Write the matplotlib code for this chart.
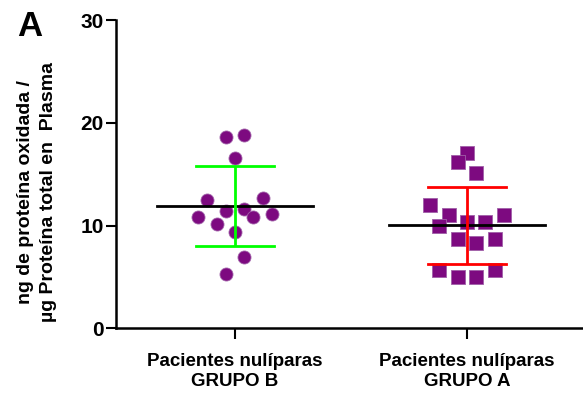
import numpy as np
import matplotlib.pyplot as plt

# values (ng oxidised protein / ug total protein)
grupo_b = [18.64, 18.80, 16.54, 12.48, 12.65, 11.41, 11.63, 10.86, 10.86,
           11.09, 10.12, 9.40, 6.96, 5.25]
grupo_a = [17.08, 16.21, 15.14, 11.99, 11.02, 11.02, 9.95, 10.37, 10.37,
           8.69, 8.27, 8.69, 5.67, 5.02, 5.02, 5.67]
# horizontal slot of each point in the dot plot (half-marker steps)
slots_b = [-1, 1, 0, -3, 3, -1, 1, -4, 2, 4, -2, 0, 1, -1]
slots_a = [0, -1, 1, -4, -2, 4, -3, 0, 2, -1, 1, 3, -3, -1, 1, 3]
labels = ["Pacientes nulíparas\nGRUPO B", "Pacientes nulíparas\nGRUPO A"]
yticks = [0, 10, 20, 30]

plt.rcParams["font.family"] = ["Liberation Sans", "DejaVu Sans"]
plt.rcParams["font.weight"] = "bold"

purple = "#7d0a80"
step = 0.0397

fig = plt.figure(figsize=(5.83, 3.96), dpi=100)
ax = fig.add_axes([116 / 583, 67.7 / 396, 1 - 116 / 583, 308.3 / 396])

groups = [(grupo_b, slots_b, "o", 88, "#00ff00"),
          (grupo_a, slots_a, "s", 100, "#ff0000")]
for i, (vals, slots, mk, sz, ecol) in enumerate(groups):
    vals = np.array(vals)
    xs = i + np.array(slots) * step
    ax.scatter(xs, vals, marker=mk, s=sz, color=purple, edgecolors="#a060a8",
               linewidths=0.6, zorder=3)
    m = vals.mean()
    sd = vals.std(ddof=1)
    ax.plot([i - 0.336, i + 0.336], [m, m], color="black", lw=2, zorder=4)
    ax.errorbar(i, m, yerr=sd, color=ecol, lw=2, capsize=0, zorder=5)
    for y in (m - sd, m + sd):
        ax.plot([i - 0.167, i + 0.167], [y, y], color=ecol, lw=2, zorder=5)

ax.set_xlim(-0.513, 1.5)
ax.set_ylim(0, 30)
ax.set_yticks(yticks)
ax.set_xticks([0, 1])
ax.set_xticklabels(labels, fontsize=13.5, fontweight="bold", linespacing=1.2)
ax.tick_params(axis="y", labelsize=15, width=1.5, length=7, pad=2)
ax.tick_params(axis="x", width=1.5, length=8, pad=10)
for lab in ax.get_yticklabels():
    lab.set_fontweight("bold")
ax.spines["top"].set_visible(False)
ax.spines["right"].set_visible(False)
ax.spines["left"].set_linewidth(1.8)
ax.spines["bottom"].set_linewidth(1.8)

fig.text(37 / 583, 1 - 192 / 396, "ng de proteína oxidada /\nµg Proteína total en  Plasma",
         rotation=90, ha="center", va="center", fontsize=14, fontweight="bold",
         linespacing=1.5)
fig.text(17 / 583, 1 - 27 / 396, "A", fontsize=25, fontweight="bold", va="center")

fig.savefig("out.png", dpi=100)
